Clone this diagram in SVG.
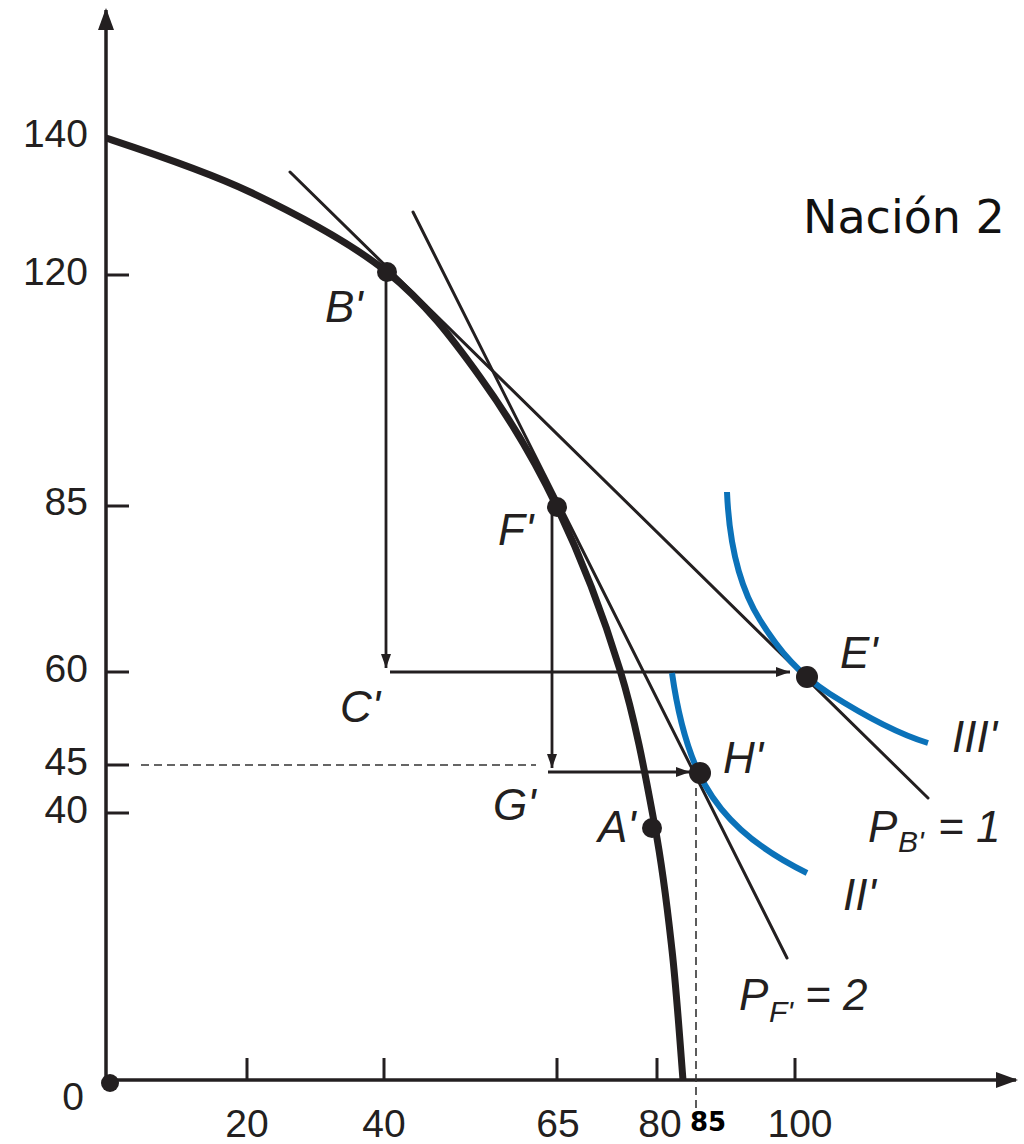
<svg xmlns="http://www.w3.org/2000/svg" width="1024" height="1144" viewBox="0 0 1024 1144">
<defs>
<style>
.ax{stroke:#231f20;stroke-width:3.5;fill:none}
.tk{stroke:#231f20;stroke-width:3;fill:none}
.tan{stroke:#231f20;stroke-width:3;fill:none;stroke-linecap:round}
.arr{stroke:#231f20;stroke-width:2.8;fill:none}
.ppf{stroke:#231f20;stroke-width:7;fill:none;stroke-linecap:butt}
.ic{stroke:#0b72b9;stroke-width:6;fill:none}
.dash{stroke:#333;stroke-width:1.6;fill:none;stroke-dasharray:8 5}
.dot{fill:#231f20}
.num{font-family:"Liberation Sans",Arial,sans-serif;font-size:39px;fill:#231f20}
.lbl{font-family:"Liberation Sans",Arial,sans-serif;font-size:44px;font-style:italic;fill:#231f20}
.sub{font-family:"Liberation Sans",Arial,sans-serif;font-size:30px;font-style:italic;fill:#231f20}
</style>
<marker id="ah" viewBox="0 0 14 10" refX="14" refY="5" markerWidth="14" markerHeight="10" markerUnits="userSpaceOnUse" orient="auto">
<path d="M0,0 L14,5 L0,10 Z" fill="#231f20"/>
</marker>
<marker id="axh" viewBox="0 0 22 16" refX="20" refY="8" markerWidth="22" markerHeight="16" markerUnits="userSpaceOnUse" orient="auto">
<path d="M0,0 L22,8 L0,16 Z" fill="#231f20"/>
</marker>
</defs>
<rect width="1024" height="1144" fill="#fff"/>

<g id="axes">
<line class="ax" x1="106" y1="1080" x2="106" y2="10" marker-end="url(#axh)"/>
<line class="ax" x1="106" y1="1080" x2="1016" y2="1080" marker-end="url(#axh)"/>
<g class="tk">
<line x1="106" y1="275" x2="129" y2="275"/>
<line x1="106" y1="506" x2="129" y2="506"/>
<line x1="106" y1="672" x2="129" y2="672"/>
<line x1="106" y1="765" x2="129" y2="765"/>
<line x1="106" y1="813" x2="129" y2="813"/>
<line x1="247" y1="1058" x2="247" y2="1080"/>
<line x1="384" y1="1058" x2="384" y2="1080"/>
<line x1="557" y1="1058" x2="557" y2="1080"/>
<line x1="657" y1="1058" x2="657" y2="1080"/>
<line x1="795" y1="1058" x2="795" y2="1080"/>
</g>
<g class="num" text-anchor="end">
<text x="88" y="147">140</text>
<text x="88" y="285">120</text>
<text x="88" y="515">85</text>
<text x="88" y="682">60</text>
<text x="88" y="775">45</text>
<text x="88" y="823">40</text>
</g>
<g class="num" text-anchor="middle">
<text x="73" y="1110">0</text>
<text x="247" y="1137">20</text>
<text x="384" y="1137">40</text>
<text x="558" y="1137">65</text>
<text x="660" y="1137">80</text>
<text x="800" y="1137">100</text>
</g>
<text x="708" y="1131" text-anchor="middle" font-family="'DejaVu Sans',sans-serif" font-weight="bold" font-size="26" fill="#000">85</text>
<circle class="dot" cx="110" cy="1083" r="9"/>
</g>

<g id="title">
<text x="803" y="233" font-family="'DejaVu Sans',sans-serif" font-size="46" fill="#111">Nación 2</text>
</g>

<g id="connectors">
<line class="tan" x1="290" y1="172" x2="928" y2="798"/>
<line class="tan" x1="413" y1="212" x2="787" y2="958"/>
<line class="arr" x1="386" y1="272" x2="386" y2="668" marker-end="url(#ah)"/>
<line class="arr" x1="390" y1="672" x2="790" y2="672" marker-end="url(#ah)"/>
<line class="arr" x1="552" y1="507" x2="552" y2="768" marker-end="url(#ah)"/>
<line class="arr" x1="548" y1="772" x2="690" y2="772" marker-end="url(#ah)"/>
<line class="dash" x1="141" y1="765" x2="536" y2="765"/>
<line class="dash" x1="696" y1="788" x2="696" y2="1112"/>
</g>

<g id="ppf">
<path class="ppf" d="M106,138 C130,146 203.2,169.7 250,192 C296.8,214.3 348.7,241.2 387,272 C425.3,302.8 451.7,337.8 480,377 C508.3,416.2 533.7,458.2 557,507 C580.3,555.8 603.7,616.7 620,670 C636.3,723.3 646.3,780.3 655,827 C663.7,873.7 667.3,907.8 672,950 C676.7,992.2 681.2,1058.3 683,1080"/>
</g>

<g id="curve-III">
<path class="ic" d="M727,492 C729,540 738,585 760,620 C780,652 800,675 830,694 C860,713 895,733 928,743"/>
<text class="lbl" x="952" y="752">III'</text>
</g>

<g id="curve-II">
<path class="ic" d="M672,673 C678,715 688,755 705,785 C722,815 750,845 807,873"/>
<text class="lbl" x="843" y="910">II'</text>
</g>

<g id="node-B">
<circle class="dot" cx="387" cy="272" r="10"/>
<text class="lbl" x="325" y="322">B'</text>
</g>
<g id="node-F">
<circle class="dot" cx="557" cy="507" r="10"/>
<text class="lbl" x="498" y="545">F'</text>
</g>
<g id="node-C">
<text class="lbl" x="340" y="722">C'</text>
</g>
<g id="node-G">
<text class="lbl" x="493" y="820">G'</text>
</g>
<g id="node-E">
<circle class="dot" cx="807" cy="677" r="11"/>
<text class="lbl" x="840" y="668">E'</text>
</g>
<g id="node-H">
<circle class="dot" cx="700" cy="773" r="11"/>
<text class="lbl" x="723" y="773">H'</text>
</g>
<g id="node-A">
<circle class="dot" cx="652" cy="828" r="10"/>
<text class="lbl" x="598" y="842">A'</text>
</g>

<g id="label-PB">
<text class="lbl" x="868" y="842">P</text>
<text class="sub" x="898" y="852">B'</text>
<text class="lbl" x="938" y="842" font-style="normal">= 1</text>
</g>
<g id="label-PF">
<text class="lbl" x="739" y="1010">P</text>
<text class="sub" x="769" y="1022">F'</text>
<text class="lbl" x="805" y="1010" font-style="normal">= 2</text>
</g>
</svg>
